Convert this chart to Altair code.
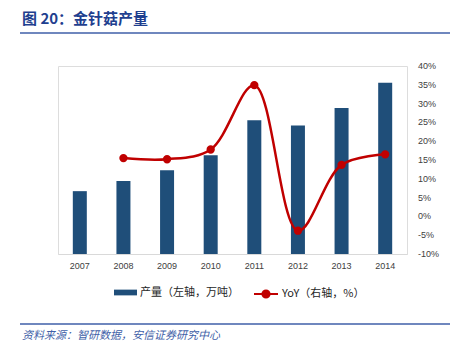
import altair as alt
import pandas as pd

years = ["2007", "2008", "2009", "2010", "2011", "2012", "2013", "2014"]
production = [117, 136, 156, 184, 249, 239, 272, 319]
yoy = [None, 0.155, 0.152, 0.178, 0.349, -0.038, 0.137, 0.165]

left_ticks = [0, 50, 100, 150, 200, 250, 300, 350]
right_ticks = [-0.10, -0.05, 0.0, 0.05, 0.10, 0.15, 0.20, 0.25, 0.30, 0.35, 0.40]
right_labels = ["-10%", "-5%", "0%", "5%", "10%", "15%", "20%", "25%", "30%", "35%", "40%"]

bar_name = "产量（左轴，万吨）"
line_name = "YoY（右轴，%）"
title_text = "图 20：金针菇产量"
source_text = "资料来源：智研数据，安信证券研究中心"

L_MIN, L_MAX = 0, 350
R_MIN, R_MAX = -0.10, 0.40

df = pd.DataFrame({"year": years, "prod": production, "yoy": yoy,
                   "s1": bar_name, "s2": line_name})
df_line = df.dropna()
df_right = pd.DataFrame({"v": right_ticks, "lab": right_labels})

W, H = 349, 188
font = "Liberation Sans"
cjk = "Noto Sans CJK SC"

# map right-axis values onto the shared left scale
to_left = f"({L_MIN}) + (datum.{{f}} - ({R_MIN})) / ({R_MAX} - ({R_MIN})) * ({L_MAX} - {L_MIN})"

yscale = alt.Scale(domain=[L_MIN, L_MAX], nice=False, zero=False)

x = alt.X("year:N", title=None, sort=years,
          scale=alt.Scale(paddingInner=0, paddingOuter=0),
          axis=alt.Axis(labelAngle=0, ticks=False, domain=True, domainColor="#D9D9D9",
                        labelColor="#404040", labelFont=font, labelFontSize=9,
                        labelPadding=7, grid=False))

bars = alt.Chart(df).mark_bar(size=14, color="#1F4E79").encode(
    x=x,
    y=alt.Y("prod:Q", title=None, scale=yscale,
            axis=alt.Axis(values=left_ticks, ticks=False, domain=False,
                          grid=False, labelColor="#404040",
                          labelFont=font, labelFontSize=9, labelPadding=12)),
    color=alt.Color("s1:N", title=None,
                    scale=alt.Scale(range=["#1F4E79"]),
                    legend=alt.Legend(orient="none", legendX=56, legendY=215,
                                      symbolType="M-1,-0.25H1V0.25H-1Z",
                                      symbolSize=529, symbolStrokeWidth=0,
                                      labelFont=cjk, labelFontSize=11,
                                      labelColor="#262626", labelOffset=3)),
)

line = alt.Chart(df_line).transform_calculate(
    ypos=to_left.format(f="yoy")
).mark_line(
    interpolate="catmull-rom", strokeWidth=2.5, color="#C00000",
    point=alt.OverlayMarkDef(size=40, filled=True, color="#C00000", opacity=1),
).encode(
    x=x,
    y=alt.Y("ypos:Q", title=None, scale=yscale, axis=None),
    stroke=alt.Stroke("s2:N", title=None, scale=alt.Scale(range=["#C00000"]),
                      legend=alt.Legend(orient="none", legendX=195, legendY=215,
                                        symbolType="M-1,0H1M-0.3,0A0.3,0.3 0 1,0 0.3,0A0.3,0.3 0 1,0 -0.3,0",
                                        symbolSize=576, symbolStrokeWidth=2,
                                        symbolFillColor="#C00000",
                                        labelFont=cjk, labelFontSize=11,
                                        labelColor="#262626", labelOffset=3)),
)

right_axis = alt.Chart(df_right).transform_calculate(
    pos=to_left.format(f="v")
).mark_text(align="left", baseline="middle", font=font, fontSize=9,
            color="#404040").encode(
    x=alt.value(W + 11),
    y=alt.Y("pos:Q", title=None, scale=yscale, axis=None),
    text="lab:N",
)

one = pd.DataFrame({"t": [title_text], "src": [source_text]})
title = alt.Chart(one).mark_text(align="left", baseline="middle", font=cjk,
                                 fontSize=15, fontWeight="bold", color="#1F3F8F").encode(
    x=alt.value(-36), y=alt.value(-47), text="t:N")
rule_top = alt.Chart(one).mark_rule(color="#3F5FA8", strokeWidth=1.5).encode(
    x=alt.value(-38), x2=alt.value(392), y=alt.value(-33))
rule_bot = alt.Chart(one).mark_rule(color="#3F5FA8", strokeWidth=1.5).encode(
    x=alt.value(-38), x2=alt.value(392), y=alt.value(258))
src = alt.Chart(one).mark_text(align="left", baseline="middle", font=cjk,
                               fontSize=11, fontStyle="italic", color="#3F5FA8").encode(
    x=alt.value(-36), y=alt.value(270), text="src:N")

chart = alt.layer(bars, line, right_axis, title, rule_top, rule_bot, src).resolve_scale(
    color="independent"
).properties(
    width=W, height=H,
    autosize=alt.AutoSizeParams(type="none"),
    padding={"left": 58, "top": 66, "right": 60, "bottom": 98},
).configure_view(strokeWidth=0).configure(background="white")

chart.save("out.html", embed_options={"renderer": "svg", "actions": False})
